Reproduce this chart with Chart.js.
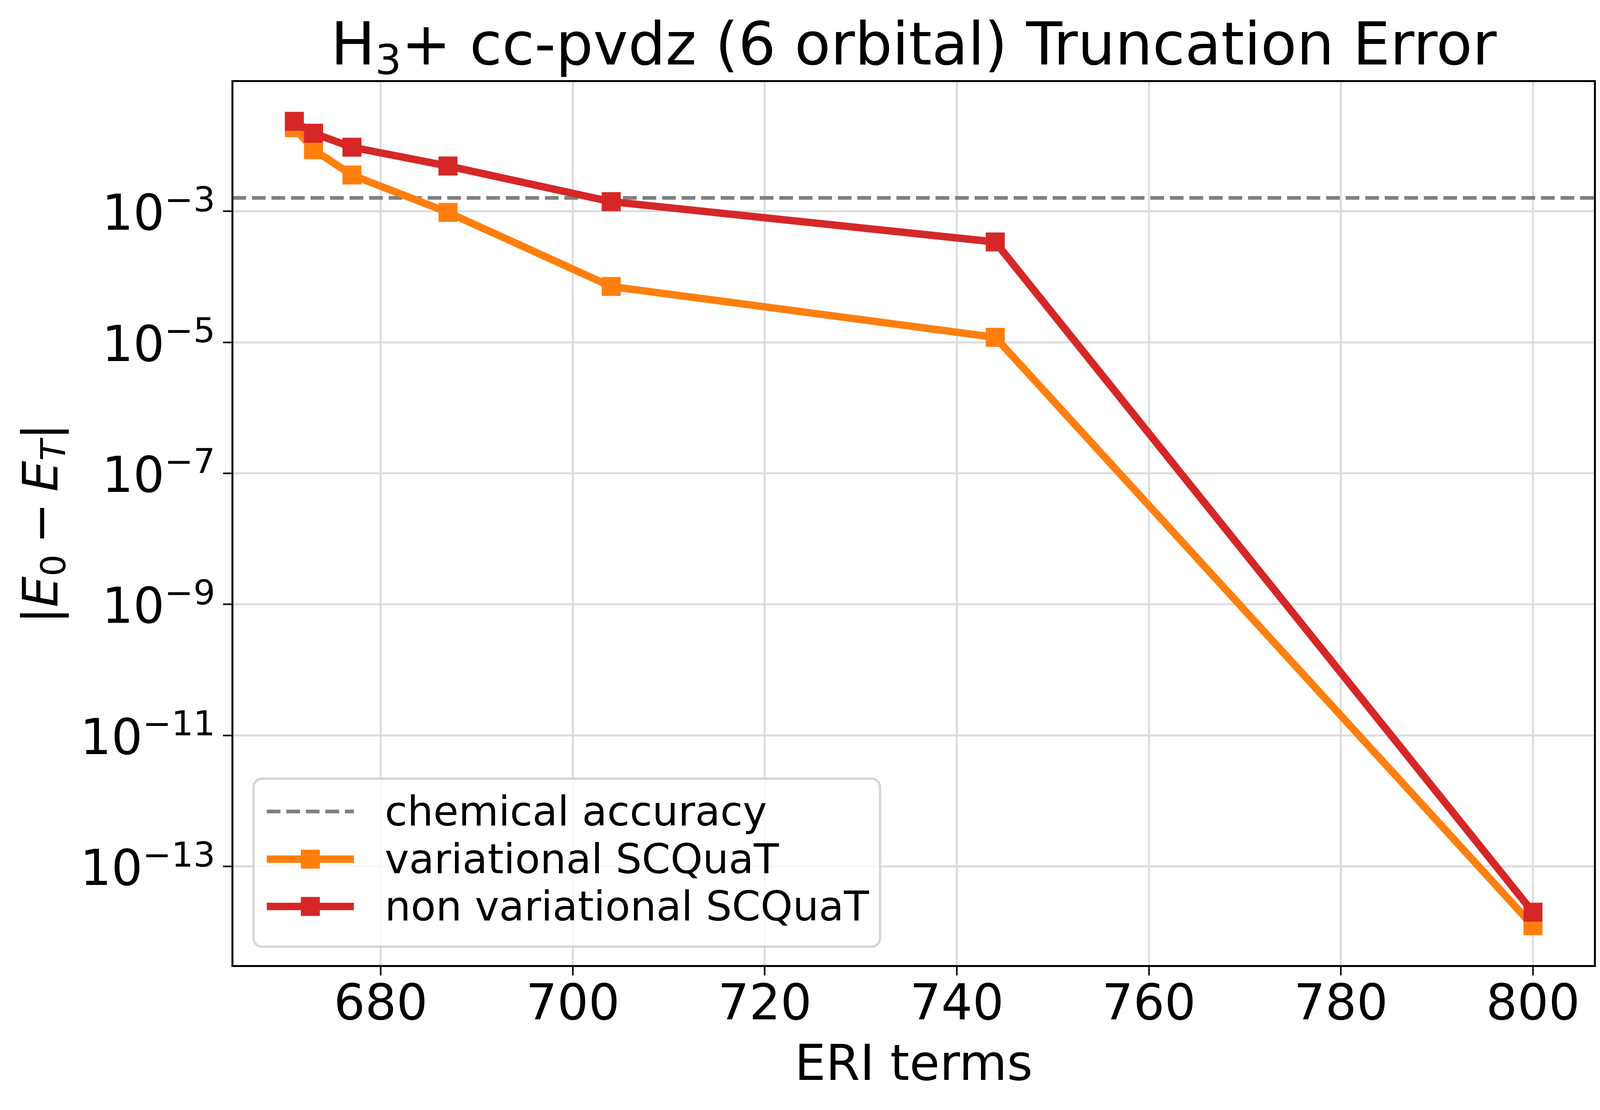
<!DOCTYPE html>
<html>
<head>
<meta charset="utf-8">
<script src="https://cdn.jsdelivr.net/npm/chart.js@4.4.1/dist/chart.umd.min.js"></script>
<style>
  html, body { margin: 0; padding: 0; background: #ffffff; }
  #wrap { width: 4132px; height: 2841px; }
</style>
</head>
<body>
<div id="wrap"><canvas id="chart" width="4132" height="2841" style="width:4132px;height:2841px"></canvas></div>
<script>
// Data
const ERI_TERMS = [671, 673, 677, 687, 704, 744, 800];
const VARIATIONAL = [1.88e-2, 8.7e-3, 3.57e-3, 9.6e-4, 7.1e-5, 1.19e-5, 1.24e-14];
const NON_VARIATIONAL = [2.36e-2, 1.55e-2, 9.5e-3, 4.9e-3, 1.4e-3, 3.4e-4, 2.0e-14];
const CHEM_ACCURACY = 1.6e-3;

const X_TICKS = [680, 700, 720, 740, 760, 780, 800];
const Y_TICK_EXPONENTS = [-13, -11, -9, -7, -5, -3];
const SERIES_LABELS = ['chemical accuracy', 'variational SCQuaT', 'non variational SCQuaT'];
const X_LABEL = 'ERI terms';

const FONT = 'DejaVu Sans';
const ORANGE = '#ff7f0e';
const RED = '#d62728';
const GREY = '#808080';

// matplotlib-like autoscale: 5% margins (log space for y)
const xPad = 0.05 * (Math.max(...ERI_TERMS) - Math.min(...ERI_TERMS));
const X_MIN = Math.min(...ERI_TERMS) - xPad;
const X_MAX = Math.max(...ERI_TERMS) + xPad;
const allLogs = VARIATIONAL.concat(NON_VARIATIONAL).map(v => Math.log10(v));
const yLo = Math.min(...allLogs), yHi = Math.max(...allLogs);
const yPad = 0.05 * (yHi - yLo);
const Y_MIN = Math.pow(10, yLo - yPad);
const Y_MAX = Math.pow(10, yHi + yPad);

function toPoints(xs, ys) {
    return xs.map((x, i) => ({x: x, y: ys[i]}));
}

// draw a row of text runs (for sub/superscripts)
function drawRuns(ctx, runs, x, y, align) {
    let total = 0;
    for (let r of runs) {
        ctx.font = (r.italic ? 'italic ' : '') + r.size + 'px "' + FONT + '"';
        r.w = r.space != undefined ? r.space : ctx.measureText(r.text).width;
        total += r.w;
    }
    let cx = align === 'center' ? x - total / 2 : (align === 'right' ? x - total : x);
    for (let r of runs) {
        if (r.text) {
            ctx.font = (r.italic ? 'italic ' : '') + r.size + 'px "' + FONT + '"';
            ctx.fillText(r.text, cx, y + (r.dy || 0));
        }
        cx += r.w;
    }
}

const framePlugin = {
    id: 'frame',
    afterDatasetsDraw(chart) {
        const {ctx, chartArea: a} = chart;
        ctx.save();
        ctx.strokeStyle = '#000';
        ctx.lineWidth = 5;
        ctx.strokeRect(a.left, a.top, a.right - a.left, a.bottom - a.top);
        ctx.restore();
    }
};

const textPlugin = {
    id: 'texts',
    afterDraw(chart) {
        const {ctx, chartArea: a} = chart;
        const yScale = chart.scales.y;
        const midX = (a.left + a.right) / 2;
        const midY = (a.top + a.bottom) / 2;
        ctx.save();
        ctx.fillStyle = '#000';
        ctx.textAlign = 'left';
        ctx.textBaseline = 'alphabetic';

        // title
        drawRuns(ctx, [
            {text: 'H', size: 151},
            {text: '3', size: 106, dy: 25},
            {text: '+ cc-pvdz (6 orbital) Truncation Error', size: 151}
        ], midX, 165, 'center');

        // x label
        drawRuns(ctx, [{text: X_LABEL, size: 126}], midX, 2764, 'center');

        // y tick labels 10^{-n}
        for (let e of Y_TICK_EXPONENTS) {
            const py = yScale.getPixelForValue(Math.pow(10, e));
            drawRuns(ctx, [
                {text: '10', size: 126, dy: 47.5},
                {text: '\u2212' + Math.abs(e), size: 88}
            ], 551, py, 'right');
        }

        // y label |E_0 - E_T|
        ctx.translate(147, midY);
        ctx.rotate(-Math.PI / 2);
        drawRuns(ctx, [
            {text: '|', size: 125},
            {text: 'E', size: 125, italic: true},
            {text: '0', size: 88, dy: 20},
            {space: 28},
            {text: '\u2212', size: 125},
            {space: 28},
            {text: 'E', size: 125, italic: true},
            {text: 'T', size: 88, italic: true, dy: 20},
            {text: '|', size: 125}
        ], 0, 0, 'center');
        ctx.restore();
    }
};

const legendPlugin = {
    id: 'boxLegend',
    afterDraw(chart) {
        const ctx = chart.ctx;
        const box = {x: 649, y: 1993, w: 1604, h: 430, r: 22};
        const rowY = [2077, 2199, 2320];
        const hx0 = 683, hx1 = 906, textX = 985;
        ctx.save();
        ctx.beginPath();
        ctx.roundRect(box.x, box.y, box.w, box.h, box.r);
        ctx.fillStyle = 'rgba(255,255,255,0.8)';
        ctx.fill();
        ctx.lineWidth = 6;
        ctx.strokeStyle = 'rgba(204,204,204,0.8)';
        ctx.stroke();

        chart.data.datasets.forEach((ds, i) => {
            const y = rowY[i];
            ctx.beginPath();
            ctx.setLineDash(ds.borderDash || []);
            ctx.lineDashOffset = 0;
            ctx.lineWidth = ds.borderWidth;
            ctx.strokeStyle = ds.borderColor;
            ctx.lineCap = 'butt';
            ctx.moveTo(hx0, y);
            ctx.lineTo(hx1, y);
            ctx.stroke();
            ctx.setLineDash([]);
            if (ds.pointRadius > 0) {
                const side = ds.pointRadius * Math.SQRT2;
                ctx.fillStyle = ds.backgroundColor;
                ctx.fillRect((hx0 + hx1) / 2 - side / 2, y - side / 2, side, side);
            }
            ctx.fillStyle = '#000';
            ctx.textBaseline = 'alphabetic';
            ctx.font = '105px "' + FONT + '"';
            ctx.fillText(ds.label, textX, y + 36);
        });
        ctx.restore();
    }
};

new Chart(document.getElementById('chart'), {
    type: 'line',
    data: {
        datasets: [
            {
                label: SERIES_LABELS[0],
                data: [{x: X_MIN, y: CHEM_ACCURACY}, {x: X_MAX, y: CHEM_ACCURACY}],
                borderColor: GREY,
                backgroundColor: GREY,
                borderWidth: 9.4,
                borderDash: [35, 15],
                pointRadius: 0,
                order: 3
            },
            {
                label: SERIES_LABELS[1],
                data: toPoints(ERI_TERMS, VARIATIONAL),
                borderColor: ORANGE,
                backgroundColor: ORANGE,
                borderWidth: 19,
                borderJoinStyle: 'round',
                pointStyle: 'rect',
                pointRadius: 34.4,
                pointBorderWidth: 0,
                pointBackgroundColor: ORANGE,
                order: 2
            },
            {
                label: SERIES_LABELS[2],
                data: toPoints(ERI_TERMS, NON_VARIATIONAL),
                borderColor: RED,
                backgroundColor: RED,
                borderWidth: 19,
                borderJoinStyle: 'round',
                pointStyle: 'rect',
                pointRadius: 34.4,
                pointBorderWidth: 0,
                pointBackgroundColor: RED,
                order: 1
            }
        ]
    },
    options: {
        responsive: false,
        devicePixelRatio: 1,
        animation: false,
        events: [],
        layout: {padding: {top: 207.5, right: 49, bottom: 0, left: 0}},
        elements: {line: {tension: 0}},
        plugins: {
            legend: {display: false},
            tooltip: {enabled: false},
            title: {display: false}
        },
        scales: {
            x: {
                type: 'linear',
                position: 'bottom',
                min: X_MIN,
                max: X_MAX,
                bounds: 'data',
                afterBuildTicks: scale => { scale.ticks = X_TICKS.map(v => ({value: v})); },
                afterFit: scale => { scale.height = 368.5; },
                border: {display: false},
                grid: {
                    color: '#dcdcdc',
                    lineWidth: 5,
                    drawTicks: true,
                    tickLength: 24,
                    tickColor: '#000',
                    tickWidth: 4
                },
                ticks: {
                    color: '#000',
                    padding: 17,
                    maxRotation: 0,
                    autoSkip: false,
                    font: {family: FONT, size: 126, lineHeight: 1}
                }
            },
            y: {
                type: 'logarithmic',
                position: 'left',
                min: Y_MIN,
                max: Y_MAX,
                bounds: 'data',
                afterBuildTicks: scale => { scale.ticks = Y_TICK_EXPONENTS.map(e => ({value: Math.pow(10, e)})); },
                afterFit: scale => { scale.width = 595; },
                border: {display: false},
                grid: {
                    color: '#dcdcdc',
                    lineWidth: 5,
                    drawTicks: true,
                    tickLength: 24,
                    tickColor: '#000',
                    tickWidth: 4
                },
                ticks: {display: false}
            }
        }
    },
    plugins: [framePlugin, textPlugin, legendPlugin]
});
</script>
</body>
</html>
